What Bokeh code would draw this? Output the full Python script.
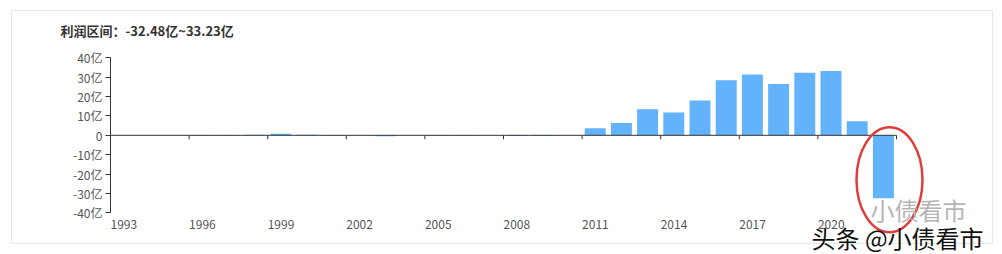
from bokeh.plotting import figure
from bokeh.models import Range1d, FixedTicker, ColumnDataSource
from bokeh.core.properties import value
from bokeh.embed import file_html
from bokeh.resources import INLINE

years = list(range(1993, 2023))
profits = [0, 0, 0, 0.2, 0.2, 0.3, 0.8, 0.3, 0.2, 0.05,
           -0.5, 0, 0.1, 0.1, 0, -0.4, -0.4, 0, 3.6, 6.3,
           13.4, 11.8, 17.9, 28.4, 31.4, 26.5, 32.3, 33.23, 7.2, -32.48]
tick_years = list(range(1993, 2021, 3))
y_ticks = [-40, -30, -20, -10, 0, 10, 20, 30, 40]
y_labels = {t: ("0" if t == 0 else f"{t}亿") for t in y_ticks}
title_text = "利润区间：-32.48亿~33.23亿"

FONT = "Noto Sans CJK SC"
PX_X = 26.2
PX_Y = 77.5 / 40.0
TOP = 40

n = len(years)
idx = list(range(n))

p = figure(width=1002, height=254, output_backend="svg", toolbar_location=None,
           x_range=Range1d(0, 892 / PX_X),
           y_range=Range1d(-40 - (254 - 212.3) / PX_Y, 40 + (57.3 - TOP) / PX_Y),
           min_border_left=110, min_border_right=0, min_border_top=TOP, min_border_bottom=0,
           x_axis_location=None, title=title_text)
p.outline_line_color = None
p.xgrid.grid_line_color = None
p.ygrid.grid_line_color = None
p.background_fill_color = None
p.border_fill_color = None
g = "linear-gradient(#e8e8e8,#e8e8e8)"
p.styles = {
    "background": (f"{g} 11px 10px / 982px 1px no-repeat, "
                   f"{g} 11px 243px / 982px 1px no-repeat, "
                   f"{g} 11px 10px / 1px 234px no-repeat, "
                   f"{g} 992px 10px / 1px 234px no-repeat, white"),
}

p.title.text_font = FONT
p.title.text_font_size = "13px"
p.title.text_font_style = "bold"
p.title.text_color = "#333333"
p.title.align = "left"
p.title.offset = -50
p.title.standoff = 2
p.title.vertical_align = "bottom"

# y axis
ya = p.yaxis[0]
ya.bounds = (-40, 40)
ya.ticker = FixedTicker(ticks=y_ticks)
ya.major_label_overrides = y_labels
ya.axis_line_color = "#333333"
ya.major_tick_line_color = "#333333"
ya.major_tick_out = 5
ya.major_tick_in = 0
ya.minor_tick_line_color = None
ya.major_label_text_font = FONT
ya.major_label_text_font_size = "12px"
ya.major_label_text_color = "#555555"
ya.major_label_standoff = 3

# bars
src = ColumnDataSource(dict(x=[i + 0.5 for i in idx], top=profits))
p.vbar(x="x", top="top", bottom=0, width=0.8, source=src, fill_color="#62b2fc", line_color=None)

# x axis line at zero with ticks
p.segment(x0=[0], y0=[0], x1=[n], y1=[0], line_color="#333333", line_width=1)
tick_pos = [years.index(y) for y in tick_years if y != years[0]] + [n]
p.segment(x0=tick_pos, y0=[0] * len(tick_pos), x1=tick_pos, y1=[-4 / PX_Y] * len(tick_pos),
          line_color="#333333", line_width=1)

# x labels
lab_x = [years.index(y) for y in tick_years]
p.text(x=lab_x, y=[-(224 - 135) / PX_Y] * len(lab_x), text=[str(y) for y in tick_years],
       text_align="left", text_baseline="middle", text_font=value(FONT),
       text_font_size="12px", text_color="#555555")

# red ellipse annotation
p.ellipse(x=[(889 - 110) / PX_X], y=[-(179.5 - 135) / PX_Y], width=[66 / PX_X], height=[105 / PX_Y],
          fill_color=None, line_color="#e23b3b", line_width=2.5)

# watermark
p.text(x=[(870 - 110) / PX_X], y=[-(209 - 135) / PX_Y], text=["小债看市"],
       text_align="left", text_baseline="middle", text_font=value(FONT),
       text_font_size="24px", text_color="#b5b5b5")
p.text(x=[(811 - 110) / PX_X], y=[-(237 - 135) / PX_Y], text=["头条 @小债看市"],
       text_align="left", text_baseline="middle", text_font=value(FONT),
       text_font_size="24px", text_color="#111111")

open("out.html", "w").write(file_html(p, INLINE))
